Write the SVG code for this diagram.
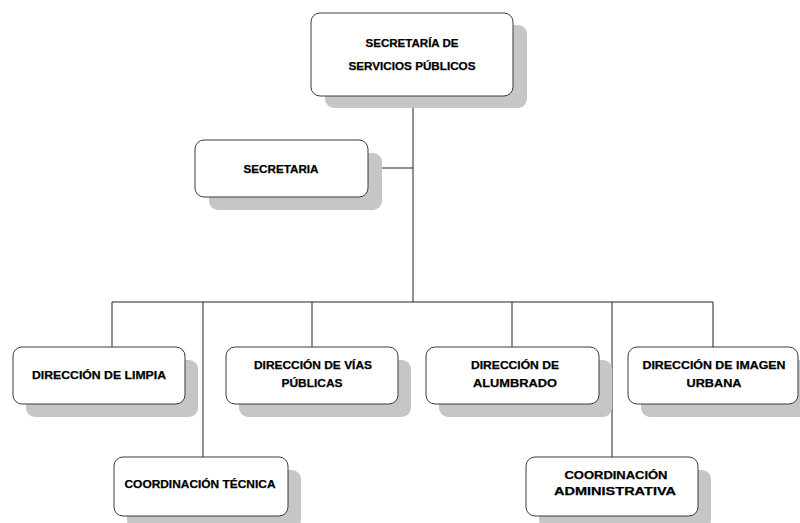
<svg xmlns="http://www.w3.org/2000/svg" width="800" height="523" viewBox="0 0 800 523">
<style>
.sh{fill:#c6c6c6;}
.bx{fill:#ffffff;stroke:#3a3a3a;stroke-width:1;}
.t{font-family:"Liberation Sans",Arial,sans-serif;font-weight:bold;font-size:11.5px;fill:#000;stroke:#000;stroke-width:0.25;text-anchor:middle;}
.ln{stroke:#222;stroke-width:1;fill:none;}
</style>
<rect width="800" height="523" fill="#ffffff"/>
<g id="connectors">
<path class="ln" d="M413 96V302M368 168H413M112 302H713M112 302V347M203 302V457M312 302V347M512 302V347M612 302V457M713 302V347"/>
</g>
<g id="n-secretaria-servicios">
<rect class="sh" x="325" y="25" width="202" height="83" rx="9"/>
<rect class="bx" x="311" y="13" width="202" height="83" rx="9"/>
<text class="t" x="412" y="47" textLength="93" lengthAdjust="spacingAndGlyphs">SECRETARÍA DE</text>
<text class="t" x="412" y="70" textLength="127" lengthAdjust="spacingAndGlyphs">SERVICIOS PÚBLICOS</text>
</g>
<g id="n-secretaria">
<rect class="sh" x="209" y="153" width="173" height="57" rx="9"/>
<rect class="bx" x="195" y="140" width="173" height="57" rx="9"/>
<text class="t" x="281" y="173" textLength="75" lengthAdjust="spacingAndGlyphs">SECRETARIA</text>
</g>
<g id="n-limpia">
<rect class="sh" x="26" y="360" width="172" height="57" rx="9"/>
<rect class="bx" x="13" y="347" width="172" height="57" rx="9"/>
<text class="t" x="99" y="379" textLength="134" lengthAdjust="spacingAndGlyphs">DIRECCIÓN DE LIMPIA</text>
</g>
<g id="n-vias">
<rect class="sh" x="239" y="360" width="172" height="57" rx="9"/>
<rect class="bx" x="226" y="347" width="172" height="57" rx="9"/>
<text class="t" x="313" y="369" textLength="118" lengthAdjust="spacingAndGlyphs">DIRECCIÓN DE VÍAS</text>
<text class="t" x="312" y="387" textLength="61" lengthAdjust="spacingAndGlyphs">PÚBLICAS</text>
</g>
<g id="n-alumbrado">
<rect class="sh" x="439" y="360" width="173" height="57" rx="9"/>
<rect class="bx" x="426" y="347" width="173" height="57" rx="9"/>
<text class="t" x="515" y="369" textLength="88" lengthAdjust="spacingAndGlyphs">DIRECCIÓN DE</text>
<text class="t" x="515" y="387" textLength="84" lengthAdjust="spacingAndGlyphs">ALUMBRADO</text>
</g>
<g id="n-imagen">
<rect class="sh" x="641" y="360" width="171" height="57" rx="9"/>
<rect class="bx" x="628" y="347" width="170" height="57" rx="9"/>
<text class="t" x="714" y="369" textLength="143" lengthAdjust="spacingAndGlyphs">DIRECCIÓN DE IMAGEN</text>
<text class="t" x="714" y="387" textLength="55" lengthAdjust="spacingAndGlyphs">URBANA</text>
</g>
<g id="n-coord-tecnica">
<rect class="sh" x="127" y="470" width="174" height="59" rx="9"/>
<rect class="bx" x="114" y="457" width="174" height="59" rx="9"/>
<text class="t" x="200" y="488" textLength="151" lengthAdjust="spacingAndGlyphs">COORDINACIÓN TÉCNICA</text>
</g>
<g id="n-coord-admin">
<rect class="sh" x="539" y="470" width="172" height="59" rx="9"/>
<rect class="bx" x="526" y="457" width="172" height="59" rx="9"/>
<text class="t" x="616" y="479" textLength="103" lengthAdjust="spacingAndGlyphs">COORDINACIÓN</text>
<text class="t" x="615" y="495" textLength="122" lengthAdjust="spacingAndGlyphs">ADMINISTRATIVA</text>
</g>
</svg>
